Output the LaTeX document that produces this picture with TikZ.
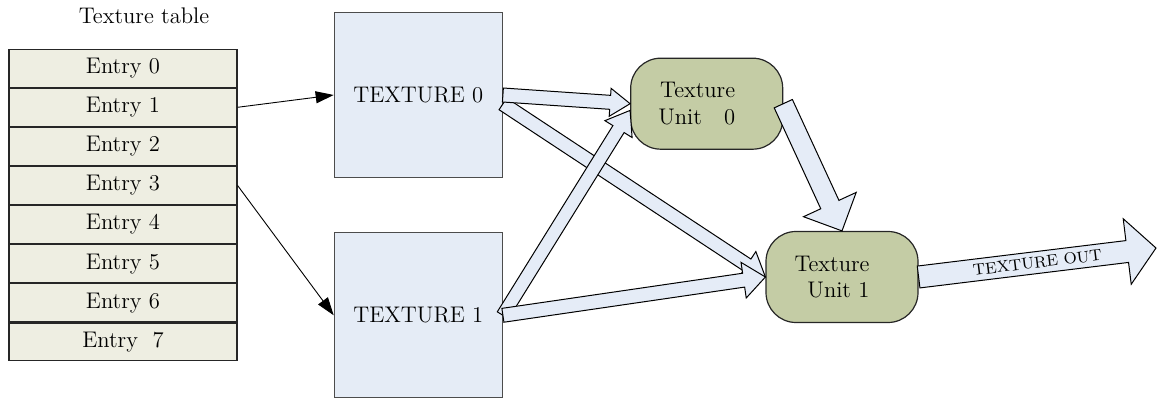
\documentclass[tikz,border=0pt]{standalone}
\usepackage{fontspec}
\usetikzlibrary{arrows.meta, positioning, calc}
\definecolor{TableFill}{RGB}{238,238,226}
\definecolor{BoxBlue}{RGB}{229,236,246}
\definecolor{UnitOlive}{RGB}{196,204,165}
\definecolor{ArrowBlue}{RGB}{229,236,247}
\newcommand\txtsize{\fontsize{11.3}{13.4}\selectfont}
\tikzset{entry/.style={rectangle, draw=black!85, fill=TableFill, line width=0.6pt,
  minimum width=114pt, minimum height=18.95pt, inner sep=0pt, font=\txtsize}}
\tikzset{texbox/.style={rectangle, draw=black!70, fill=BoxBlue, line width=0.6pt,
  minimum width=84pt, minimum height=82.5pt, font=\txtsize}}
\tikzset{unit/.style={rectangle, rounded corners=15pt, draw=black!85, fill=UnitOlive,
  line width=0.6pt, minimum width=76pt, minimum height=45.5pt, align=right, font=\txtsize}}
\tikzset{fl/.style={-{Triangle[length=9pt, width=6pt]}, draw=black, line width=0.45pt}}
\tikzset{fat/.style={draw=black, fill=ArrowBlue, line width=0.5pt, line join=miter}}
% fat arrow: from, to, shaft half width, head half width, head length
\newcommand\fatarrow[5]{%
  \coordinate (fh) at ($(#2)!#5!(#1)$);
  \draw[fat] ($(#1)!#3!90:(#2)$) -- ($(fh)!#3!90:(#2)$) -- ($(fh)!#4!90:(#2)$)
    -- (#2) -- ($(fh)!#4!-90:(#2)$) -- ($(fh)!#3!-90:(#2)$) -- ($(#1)!#3!-90:(#2)$) -- cycle;}

\begin{document}
\begin{tikzpicture}[x=0.5pt, y=-0.5pt]
\useasboundingbox (0,0) rectangle (1157,400);
% table
\node[font=\txtsize] (title) at (144,16) {Texture table};
\node[entry] (e0) at (123,68.2) {Entry 0};
\foreach \i [count=\j from 0] in {1,...,6}
  \node[entry, below=0pt of e\j] (e\i) {Entry \i};
\node[entry, below=0pt of e6] (e7) {Entry~~7};
% textures and units
\node[texbox] (tex0) at (418.3,95) {TEXTURE 0};
\node[texbox] (tex1) at (418.3,315.3) {TEXTURE 1};
\node[unit] (tu0) at (706.7,103.7) {Texture\hspace*{10pt}\\Unit\ \ \ 0\hspace*{10pt}};
\node[unit] (tu1) at (842,277) {Texture\hspace*{10pt}\\Unit 1\hspace*{10pt}};
\coordinate (out) at (1156,248);
\draw[fl] (e1.east) -- (tex0.west);
\draw[fl] (e3.east) -- (tex1.west);
\fatarrow{tex0.-6}{tu1.west}{3.5pt}{8pt}{11pt}
\fatarrow{tex1.east}{tu0.185}{3.3pt}{8pt}{11pt}
\fatarrow{tex0.east}{tu0.west}{3.5pt}{7pt}{10pt}
\fatarrow{tex1.east}{tu1.west}{3.5pt}{9pt}{11pt}
\fatarrow{tu0.east}{tu1.north}{5pt}{14.5pt}{14.5pt}
\fatarrow{tu1.east}{out}{5.5pt}{16.5pt}{14.5pt}
\path (tu1.east) -- (out) node[midway, sloped, font=\fontsize{8}{9}\selectfont\addfontfeatures{LetterSpace=10}] (outlbl) {TEXTURE OUT};
\end{tikzpicture}
\end{document}
